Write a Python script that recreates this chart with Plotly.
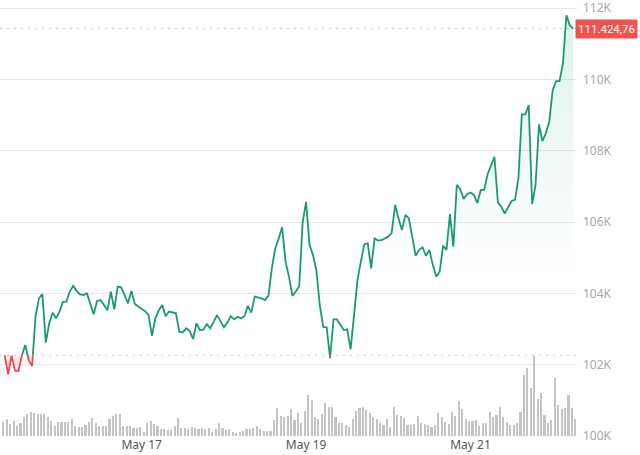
import plotly.graph_objects as go
from datetime import datetime, timedelta

# ---------------- data ----------------
START = datetime(2025, 5, 15, 8, 0)   # first hourly sample
BASE_PRICE = 102265                    # reference (opening) price, dotted line
LAST_LABEL = "111.424,76"

price = [
    102265, 101730, 102250, 101830, 101820, 102255, 102550, 102130, 101960, 103345,
    103860, 103980, 102620, 103160, 103460, 103300, 103490, 103760, 103770, 104050,
    104210, 104070, 103970, 103950, 104000, 103720, 103410, 103790, 103810, 103670,
    103530, 104050, 103550, 104190, 104170, 103950, 103720, 104070, 103700, 103630,
    103570, 103500, 103390, 102810, 103300, 103530, 103670, 103360, 103490, 103460,
    103440, 102920, 102910, 103020, 102950, 102720, 103160, 102970, 102980, 103140,
    103020, 103200, 103390, 103220, 103050, 103180, 103360, 103270, 103340, 103300,
    103360, 103650, 103460, 103910, 103890, 103860, 103810, 103930, 104700, 105260,
    105540, 105850, 104890, 104470, 103930, 104050, 104210, 106000, 106570, 105360,
    105080, 104650, 103670, 103060, 103050, 102180, 103270, 103270, 103110, 102970,
    102990, 102430, 103390, 104370, 104890, 105380, 105400, 104700, 105540, 105480,
    105490, 105540, 105590, 105700, 106480, 106100, 105780, 106200, 106100, 105590,
    105050, 105220, 105290, 105050, 105220, 104800, 104470, 104600, 105340, 105220,
    106220, 105310, 107040, 106930, 106650, 106780, 106830, 106760, 106530, 106900,
    106900, 107340, 107600, 107830, 106550, 106430, 106240, 106430, 106590, 106620,
    107230, 109020, 109020, 109280, 106500, 107040, 108740, 108270, 108490, 108810,
    109700, 109950, 109950, 110450, 111800, 111520, 111424.76,
]

volume = [
    41, 51, 35, 45, 30, 38, 58, 65, 73, 68, 67, 67, 67, 58, 45, 31, 43, 43, 43, 43,
    51, 31, 28, 28, 33, 43, 55, 40, 31, 29, 29, 51, 61, 65, 65, 30, 31, 31, 25, 23,
    26, 13, 38, 46, 36, 31, 21, 20, 18, 19, 30, 53, 25, 23, 21, 28, 23, 20, 25, 21,
    25, 13, 20, 40, 23, 18, 20, 13, 10, 11, 15, 20, 21, 23, 30, 20, 16, 16, 16, 48,
    83, 60, 58, 61, 82, 47, 70, 40, 74, 122, 107, 57, 52, 65, 100, 87, 87, 57, 40, 40,
    32, 27, 50, 74, 85, 87, 77, 70, 57, 52, 40, 32, 52, 27, 87, 64, 60, 54, 34, 34,
    37, 60, 40, 37, 32, 27, 34, 70, 57, 42, 37, 72, 60, 105, 80, 52, 44, 44, 47, 30,
    40, 40, 72, 57, 64, 87, 57, 42, 34, 34, 40, 72, 184, 204, 144, 240, 110, 130, 64, 40,
    47, 174, 92, 80, 84, 124, 84, 50,
]

x_tick_dates = ["2025-05-17", "2025-05-19", "2025-05-21"]
x_tick_labels = ["May 17", "May 19", "May 21"]
y_tick_values = [100000, 102000, 104000, 106000, 108000, 110000, 112000]
y_tick_labels = ["100K", "102K", "104K", "106K", "108K", "110K", "112K"]

# ---------------- styling ----------------
GREEN = "#1a9b6c"
RED = "#ea4a52"
FONT = "Noto Sans"

# split the price line where it crosses the reference price
pts = []
for i, v in enumerate(price):
    if i > 0:
        a = price[i - 1]
        if (a - BASE_PRICE) * (v - BASE_PRICE) < 0:
            f = (BASE_PRICE - a) / (v - a)
            pts.append((i - 1 + f, BASE_PRICE))
    pts.append((i, v))

tx = [START + timedelta(hours=t) for t, _ in pts]
ty = [v for _, v in pts]
up_line = [v if v >= BASE_PRICE else None for v in ty]
dn_line = [v if v <= BASE_PRICE else None for v in ty]
up_fill = [max(v, BASE_PRICE) for v in ty]
dn_fill = [min(v, BASE_PRICE) for v in ty]
base_line = [BASE_PRICE] * len(ty)

vtimes = [START + timedelta(hours=i - 0.4) for i in range(len(volume))]

fig = go.Figure()

# volume bars (secondary hidden axis)
fig.add_trace(go.Bar(
    x=vtimes, y=volume, yaxis="y2",
    marker=dict(color="#c4c4c4", line=dict(width=0)),
    width=0.62 * 3600 * 1000, hoverinfo="skip",
))

# green gradient fill above reference price
fig.add_trace(go.Scatter(x=tx, y=base_line, mode="lines",
                         line=dict(width=0), hoverinfo="skip"))
fig.add_trace(go.Scatter(
    x=tx, y=up_fill, mode="lines", line=dict(width=0), fill="tonexty",
    fillgradient=dict(type="vertical", start=104600, stop=112000,
                      colorscale=[[0, "rgba(26,170,110,0)"],
                                  [1, "rgba(26,170,110,0.15)"]]),
    hoverinfo="skip",
))
# red fill below reference price
fig.add_trace(go.Scatter(x=tx, y=base_line, mode="lines",
                         line=dict(width=0), hoverinfo="skip"))
fig.add_trace(go.Scatter(
    x=tx, y=dn_fill, mode="lines", line=dict(width=0), fill="tonexty",
    fillcolor="rgba(234,74,82,0.12)", hoverinfo="skip",
))

# lines
fig.add_trace(go.Scatter(x=tx, y=up_line, mode="lines",
                         line=dict(color=GREEN, width=1.8), connectgaps=False))
fig.add_trace(go.Scatter(x=tx, y=dn_line, mode="lines",
                         line=dict(color=RED, width=1.8), connectgaps=False))

# dotted reference lines
for yv in (BASE_PRICE, price[-1]):
    fig.add_shape(type="line", xref="paper", x0=0, x1=1, yref="y", y0=yv, y1=yv,
                  line=dict(color="#c8c8c8", width=1, dash="2px,5px"), layer="below")

# last price label
fig.add_annotation(
    xref="paper", x=1, yref="y", y=price[-1], xanchor="left", yanchor="middle",
    text=LAST_LABEL, showarrow=False, xshift=-2,
    bgcolor="#ef5350", borderpad=2,
    font=dict(family="Roboto", size=11.5, color="white"),
)

x0 = START - timedelta(hours=1.37)
x1 = START + timedelta(hours=167.1)

fig.update_layout(
    width=640, height=455,
    margin=dict(l=0, r=63, t=7, b=19),
    paper_bgcolor="white", plot_bgcolor="white",
    showlegend=False, bargap=0,
    font=dict(family=FONT, size=12, color="#555"),
    xaxis=dict(
        range=[x0, x1], showgrid=False, zeroline=False, showline=False,
        tickvals=x_tick_dates, ticktext=x_tick_labels, ticks="",
        tickfont=dict(family=FONT, size=12, color="#555"),
        ticklabeloverflow="allow",
        fixedrange=True,
    ),
    yaxis=dict(
        range=[100000, 112030], side="right",
        tickvals=y_tick_values, ticktext=y_tick_labels, ticks="",
        showgrid=True, gridcolor="#e6e6e6", gridwidth=1,
        zeroline=False, showline=False,
        tickfont=dict(family=FONT, size=12, color="#a8a8a8"),
        ticklabelstandoff=5, ticklabeloverflow="allow",
    ),
    yaxis2=dict(
        range=[0, 1287], overlaying="y", side="left", visible=False,
        showgrid=False, zeroline=False,
    ),
)

fig.write_html(
    "out.html",
    config={"displayModeBar": False},
    post_script="document.body.style.margin='0';document.body.style.overflow='hidden';",
)
